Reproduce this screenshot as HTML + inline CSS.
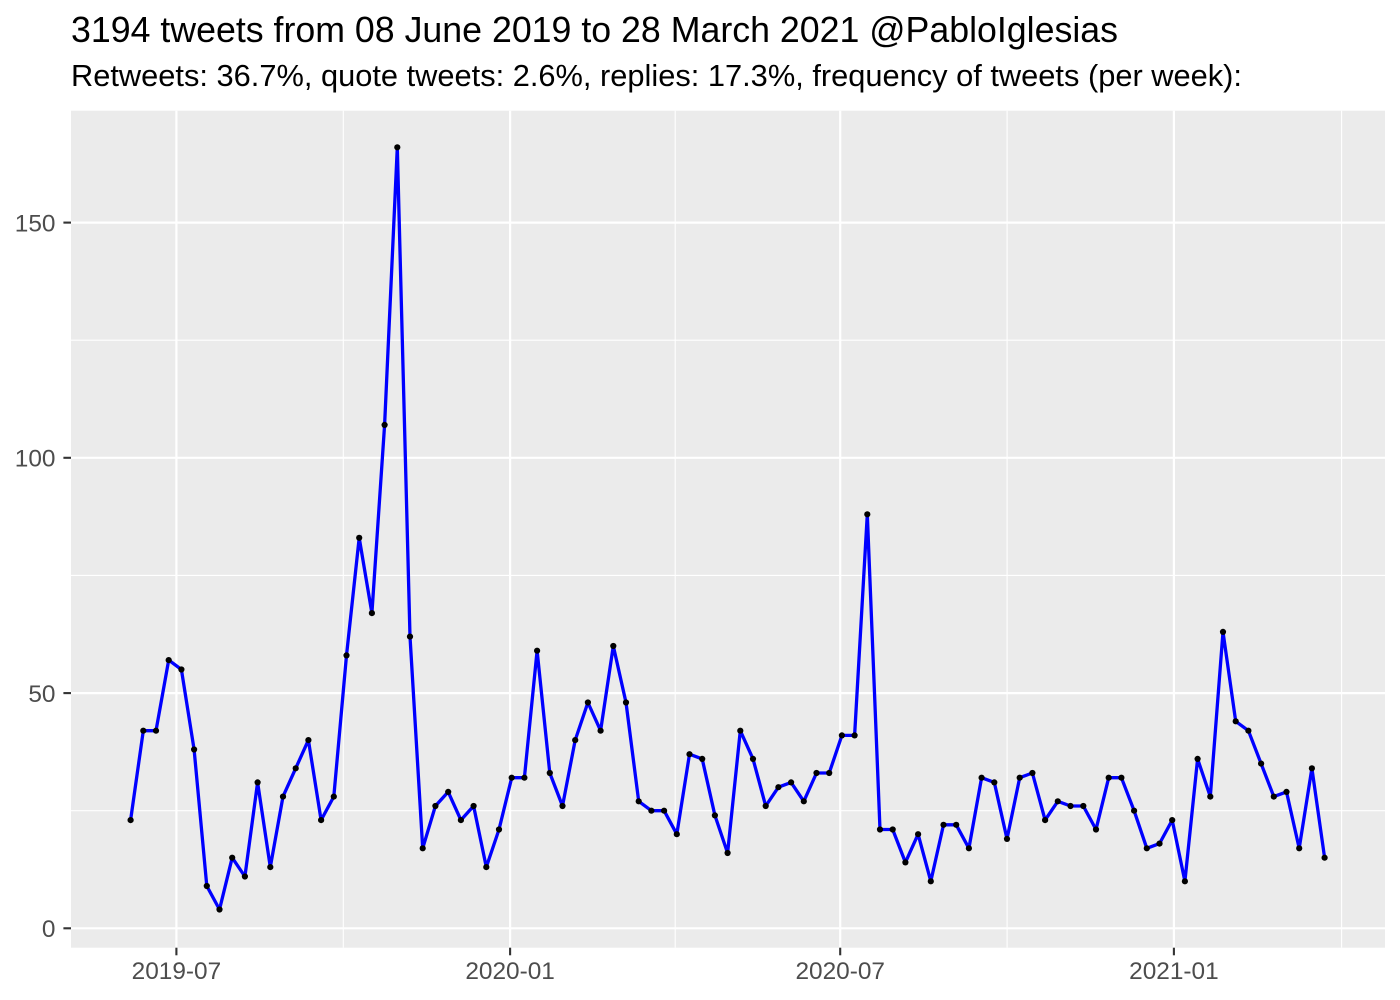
<!DOCTYPE html>
<html>
<head>
<meta charset="utf-8">
<style>
html,body{margin:0;padding:0;background:#fff;}
svg{display:block;}
</style>
</head>
<body>
<svg width="1400" height="1000" viewBox="0 0 1400 1000" xmlns="http://www.w3.org/2000/svg">
<rect x="0" y="0" width="1400" height="1000" fill="#ffffff"/>
<!-- Titles -->
<text x="71" y="42" font-family="Liberation Sans, Arial, sans-serif" font-size="36" fill="#000" textLength="1047" lengthAdjust="spacingAndGlyphs">3194 tweets from 08 June 2019 to 28 March 2021 @PabloIglesias</text>
<text x="71" y="86" font-family="Liberation Sans, Arial, sans-serif" font-size="30.7" fill="#000" textLength="1171" lengthAdjust="spacingAndGlyphs">Retweets: 36.7%, quote tweets: 2.6%, replies: 17.3%, frequency of tweets (per week):</text>

<!-- Panel -->
<rect x="71" y="110.7" width="1314" height="837" fill="#EBEBEB"/>
<!-- minor grid -->
<g stroke="#ffffff" stroke-width="1.1" fill="none">
<line x1="71" x2="1385" y1="810.7" y2="810.7"/>
<line x1="71" x2="1385" y1="575.4" y2="575.4"/>
<line x1="71" x2="1385" y1="340.2" y2="340.2"/>
<line y1="110.7" y2="947.7" x1="343.3" x2="343.3"/>
<line y1="110.7" y2="947.7" x1="675.2" x2="675.2"/>
<line y1="110.7" y2="947.7" x1="1007.1" x2="1007.1"/>
<line y1="110.7" y2="947.7" x1="1341.6" x2="1341.6"/>
</g>
<!-- major grid -->
<g stroke="#ffffff" stroke-width="2.2" fill="none">
<line x1="71" x2="1385" y1="928.3" y2="928.3"/>
<line x1="71" x2="1385" y1="693.1" y2="693.1"/>
<line x1="71" x2="1385" y1="457.8" y2="457.8"/>
<line x1="71" x2="1385" y1="222.6" y2="222.6"/>
<line y1="110.7" y2="947.7" x1="176.4" x2="176.4"/>
<line y1="110.7" y2="947.7" x1="510.1" x2="510.1"/>
<line y1="110.7" y2="947.7" x1="840.2" x2="840.2"/>
<line y1="110.7" y2="947.7" x1="1173.9" x2="1173.9"/>
</g>

<!-- series line -->
<polyline fill="none" stroke="#0000FF" stroke-width="3.3" stroke-linejoin="round" stroke-linecap="butt" points="
130.6,820.1 143.3,730.7 156.0,730.7 168.7,660.1 181.4,669.5 194.1,749.5 206.8,886.0 219.5,909.5 232.2,857.7 244.9,876.5
257.6,782.4 270.3,867.1 283.0,796.6 295.7,768.3 308.4,740.1 321.1,820.1 333.8,796.6 346.5,655.4 359.2,537.8 371.9,613.1
384.6,424.9 397.3,147.3 410.0,636.6 422.7,848.3 435.4,806.0 448.2,791.9 460.9,820.1 473.6,806.0 486.3,867.1 499.0,829.5
511.7,777.7 524.4,777.7 537.1,650.7 549.8,773.0 562.5,806.0 575.2,740.1 587.9,702.5 600.6,730.7 613.3,646.0 626.0,702.5
638.7,801.3 651.4,810.7 664.1,810.7 676.8,834.2 689.5,754.2 702.2,758.9 714.9,815.4 727.6,853.0 740.3,730.7 753.0,758.9
765.7,806.0 778.4,787.2 791.1,782.4 803.8,801.3 816.5,773.0 829.2,773.0 841.9,735.4 854.6,735.4 867.3,514.3 880.0,829.5
892.7,829.5 905.4,862.4 918.1,834.2 930.8,881.3 943.5,824.8 956.2,824.8 968.9,848.3 981.6,777.7 994.3,782.4 1007.0,838.9
1019.7,777.7 1032.4,773.0 1045.1,820.1 1057.8,801.3 1070.5,806.0 1083.3,806.0 1096.0,829.5 1108.7,777.7 1121.4,777.7 1134.1,810.7
1146.8,848.3 1159.5,843.6 1172.2,820.1 1184.9,881.3 1197.6,758.9 1210.3,796.6 1223.0,631.9 1235.7,721.3 1248.4,730.7 1261.1,763.6
1273.8,796.6 1286.5,791.9 1299.2,848.3 1311.9,768.3 1324.6,857.7"/>

<!-- points -->
<g fill="#000000">
<circle cx="130.6" cy="820.1" r="3.1"/><circle cx="143.3" cy="730.7" r="3.1"/><circle cx="156.0" cy="730.7" r="3.1"/><circle cx="168.7" cy="660.1" r="3.1"/><circle cx="181.4" cy="669.5" r="3.1"/>
<circle cx="194.1" cy="749.5" r="3.1"/><circle cx="206.8" cy="886.0" r="3.1"/><circle cx="219.5" cy="909.5" r="3.1"/><circle cx="232.2" cy="857.7" r="3.1"/><circle cx="244.9" cy="876.5" r="3.1"/>
<circle cx="257.6" cy="782.4" r="3.1"/><circle cx="270.3" cy="867.1" r="3.1"/><circle cx="283.0" cy="796.6" r="3.1"/><circle cx="295.7" cy="768.3" r="3.1"/><circle cx="308.4" cy="740.1" r="3.1"/>
<circle cx="321.1" cy="820.1" r="3.1"/><circle cx="333.8" cy="796.6" r="3.1"/><circle cx="346.5" cy="655.4" r="3.1"/><circle cx="359.2" cy="537.8" r="3.1"/><circle cx="371.9" cy="613.1" r="3.1"/>
<circle cx="384.6" cy="424.9" r="3.1"/><circle cx="397.3" cy="147.3" r="3.1"/><circle cx="410.0" cy="636.6" r="3.1"/><circle cx="422.7" cy="848.3" r="3.1"/><circle cx="435.4" cy="806.0" r="3.1"/>
<circle cx="448.2" cy="791.9" r="3.1"/><circle cx="460.9" cy="820.1" r="3.1"/><circle cx="473.6" cy="806.0" r="3.1"/><circle cx="486.3" cy="867.1" r="3.1"/><circle cx="499.0" cy="829.5" r="3.1"/>
<circle cx="511.7" cy="777.7" r="3.1"/><circle cx="524.4" cy="777.7" r="3.1"/><circle cx="537.1" cy="650.7" r="3.1"/><circle cx="549.8" cy="773.0" r="3.1"/><circle cx="562.5" cy="806.0" r="3.1"/>
<circle cx="575.2" cy="740.1" r="3.1"/><circle cx="587.9" cy="702.5" r="3.1"/><circle cx="600.6" cy="730.7" r="3.1"/><circle cx="613.3" cy="646.0" r="3.1"/><circle cx="626.0" cy="702.5" r="3.1"/>
<circle cx="638.7" cy="801.3" r="3.1"/><circle cx="651.4" cy="810.7" r="3.1"/><circle cx="664.1" cy="810.7" r="3.1"/><circle cx="676.8" cy="834.2" r="3.1"/><circle cx="689.5" cy="754.2" r="3.1"/>
<circle cx="702.2" cy="758.9" r="3.1"/><circle cx="714.9" cy="815.4" r="3.1"/><circle cx="727.6" cy="853.0" r="3.1"/><circle cx="740.3" cy="730.7" r="3.1"/><circle cx="753.0" cy="758.9" r="3.1"/>
<circle cx="765.7" cy="806.0" r="3.1"/><circle cx="778.4" cy="787.2" r="3.1"/><circle cx="791.1" cy="782.4" r="3.1"/><circle cx="803.8" cy="801.3" r="3.1"/><circle cx="816.5" cy="773.0" r="3.1"/>
<circle cx="829.2" cy="773.0" r="3.1"/><circle cx="841.9" cy="735.4" r="3.1"/><circle cx="854.6" cy="735.4" r="3.1"/><circle cx="867.3" cy="514.3" r="3.1"/><circle cx="880.0" cy="829.5" r="3.1"/>
<circle cx="892.7" cy="829.5" r="3.1"/><circle cx="905.4" cy="862.4" r="3.1"/><circle cx="918.1" cy="834.2" r="3.1"/><circle cx="930.8" cy="881.3" r="3.1"/><circle cx="943.5" cy="824.8" r="3.1"/>
<circle cx="956.2" cy="824.8" r="3.1"/><circle cx="968.9" cy="848.3" r="3.1"/><circle cx="981.6" cy="777.7" r="3.1"/><circle cx="994.3" cy="782.4" r="3.1"/><circle cx="1007.0" cy="838.9" r="3.1"/>
<circle cx="1019.7" cy="777.7" r="3.1"/><circle cx="1032.4" cy="773.0" r="3.1"/><circle cx="1045.1" cy="820.1" r="3.1"/><circle cx="1057.8" cy="801.3" r="3.1"/><circle cx="1070.5" cy="806.0" r="3.1"/>
<circle cx="1083.3" cy="806.0" r="3.1"/><circle cx="1096.0" cy="829.5" r="3.1"/><circle cx="1108.7" cy="777.7" r="3.1"/><circle cx="1121.4" cy="777.7" r="3.1"/><circle cx="1134.1" cy="810.7" r="3.1"/>
<circle cx="1146.8" cy="848.3" r="3.1"/><circle cx="1159.5" cy="843.6" r="3.1"/><circle cx="1172.2" cy="820.1" r="3.1"/><circle cx="1184.9" cy="881.3" r="3.1"/><circle cx="1197.6" cy="758.9" r="3.1"/>
<circle cx="1210.3" cy="796.6" r="3.1"/><circle cx="1223.0" cy="631.9" r="3.1"/><circle cx="1235.7" cy="721.3" r="3.1"/><circle cx="1248.4" cy="730.7" r="3.1"/><circle cx="1261.1" cy="763.6" r="3.1"/>
<circle cx="1273.8" cy="796.6" r="3.1"/><circle cx="1286.5" cy="791.9" r="3.1"/><circle cx="1299.2" cy="848.3" r="3.1"/><circle cx="1311.9" cy="768.3" r="3.1"/><circle cx="1324.6" cy="857.7" r="3.1"/>
</g>

<!-- axis ticks -->
<g stroke="#333333" stroke-width="2.1">
<line x1="63.4" x2="71" y1="928.3" y2="928.3"/>
<line x1="63.4" x2="71" y1="693.1" y2="693.1"/>
<line x1="63.4" x2="71" y1="457.8" y2="457.8"/>
<line x1="63.4" x2="71" y1="222.6" y2="222.6"/>
<line y1="947.7" y2="955.3" x1="176.4" x2="176.4"/>
<line y1="947.7" y2="955.3" x1="510.1" x2="510.1"/>
<line y1="947.7" y2="955.3" x1="840.2" x2="840.2"/>
<line y1="947.7" y2="955.3" x1="1173.9" x2="1173.9"/>
</g>

<!-- axis labels -->
<g font-family="Liberation Sans, Arial, sans-serif" font-size="24.4" fill="#4D4D4D">
<text x="55.5" y="937.1" text-anchor="end">0</text>
<text x="55.5" y="701.9" text-anchor="end">50</text>
<text x="55.5" y="466.6" text-anchor="end">100</text>
<text x="55.5" y="231.4" text-anchor="end">150</text>
<text x="176.4" y="979" text-anchor="middle">2019-07</text>
<text x="510.1" y="979" text-anchor="middle">2020-01</text>
<text x="840.2" y="979" text-anchor="middle">2020-07</text>
<text x="1173.9" y="979" text-anchor="middle">2021-01</text>
</g>
</svg>
</body>
</html>
